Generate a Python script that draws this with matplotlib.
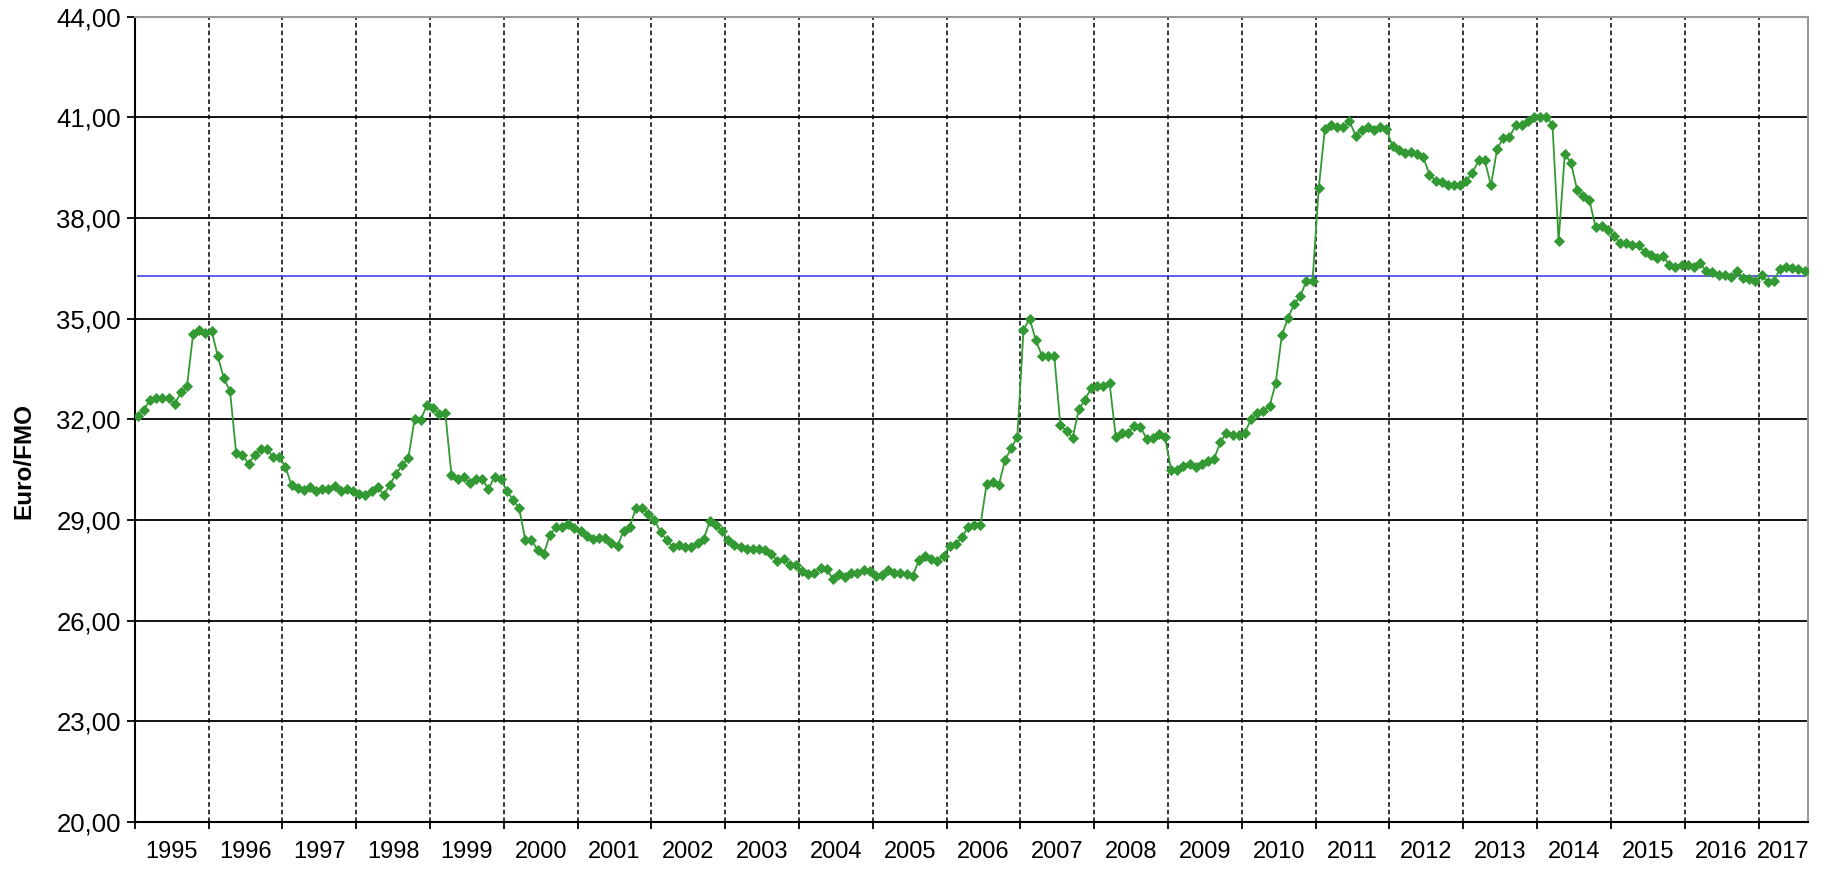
import matplotlib
matplotlib.use("Agg")
import matplotlib.pyplot as plt
from matplotlib.ticker import FixedLocator, FuncFormatter, NullFormatter

# monthly values Jan 1995 .. Aug 2017 (Euro/FMO)
monthly_values = [
    32.10, 32.28, 32.58, 32.63, 32.64, 32.64, 32.45, 32.80, 32.98, 34.55, 34.65, 34.58,  # 1995
    34.64, 33.88, 33.22, 32.83, 30.98, 30.93, 30.68, 30.93, 31.10, 31.10, 30.88, 30.88,  # 1996
    30.58, 30.03, 29.96, 29.90, 29.98, 29.85, 29.92, 29.92, 30.00, 29.86, 29.92, 29.85,  # 1997
    29.76, 29.73, 29.86, 29.98, 29.75, 30.05, 30.38, 30.63, 30.86, 32.00, 31.98, 32.42,  # 1998
    32.34, 32.16, 32.18, 30.33, 30.21, 30.29, 30.09, 30.23, 30.23, 29.91, 30.29, 30.23,  # 1999
    29.87, 29.60, 29.35, 28.40, 28.40, 28.11, 27.99, 28.55, 28.78, 28.78, 28.88, 28.76,  # 2000
    28.68, 28.52, 28.44, 28.46, 28.46, 28.31, 28.23, 28.68, 28.80, 29.36, 29.36, 29.18,  # 2001
    29.00, 28.64, 28.40, 28.19, 28.25, 28.19, 28.19, 28.30, 28.43, 28.96, 28.85, 28.66,  # 2002
    28.39, 28.26, 28.19, 28.13, 28.13, 28.13, 28.09, 27.99, 27.77, 27.84, 27.67, 27.67,  # 2003
    27.47, 27.40, 27.42, 27.57, 27.54, 27.24, 27.40, 27.30, 27.42, 27.42, 27.50, 27.47,  # 2004
    27.34, 27.37, 27.50, 27.42, 27.42, 27.40, 27.34, 27.80, 27.92, 27.84, 27.77, 27.94,  # 2005
    28.23, 28.29, 28.49, 28.79, 28.85, 28.85, 30.06, 30.13, 30.05, 30.79, 31.13, 31.48,  # 2006
    34.66, 35.00, 34.36, 33.89, 33.89, 33.89, 31.82, 31.65, 31.45, 32.30, 32.58, 32.93,  # 2007
    33.00, 33.00, 33.07, 31.48, 31.58, 31.60, 31.80, 31.78, 31.42, 31.45, 31.55, 31.48,  # 2008
    30.49, 30.49, 30.61, 30.66, 30.59, 30.66, 30.76, 30.83, 31.31, 31.60, 31.54, 31.54,  # 2009
    31.60, 32.00, 32.20, 32.26, 32.38, 33.08, 34.50, 35.02, 35.42, 35.66, 36.13, 36.13,  # 2010
    38.89, 40.65, 40.77, 40.70, 40.70, 40.88, 40.45, 40.62, 40.72, 40.62, 40.72, 40.65,  # 2011
    40.13, 40.03, 39.93, 39.95, 39.89, 39.81, 39.29, 39.11, 39.06, 38.99, 38.99, 38.99,  # 2012
    39.11, 39.35, 39.71, 39.71, 38.97, 40.05, 40.38, 40.40, 40.76, 40.76, 40.88, 41.00,  # 2013
    41.01, 41.00, 40.78, 37.31, 39.89, 39.65, 38.84, 38.64, 38.54, 37.72, 37.77, 37.64,  # 2014
    37.46, 37.25, 37.25, 37.18, 37.18, 36.98, 36.88, 36.81, 36.85, 36.61, 36.53, 36.61,  # 2015
    36.61, 36.53, 36.65, 36.41, 36.38, 36.31, 36.31, 36.23, 36.41, 36.21, 36.18, 36.11,  # 2016
    36.31, 36.08, 36.13, 36.48, 36.55, 36.51, 36.48, 36.43,                              # 2017
]
year_labels = [str(y) for y in range(1995, 2018)]
reference_value = 36.27
y_ticks = [20, 23, 26, 29, 32, 35, 38, 41, 44]

plt.rcParams['font.family'] = ['Liberation Sans', 'DejaVu Sans']

n = len(monthly_values)
x = list(range(1, n + 1))

fig = plt.figure(figsize=(18.48, 8.69), dpi=100)
ax = fig.add_axes([0.0729, 0.0541, 0.9053, 0.9269])

ax.plot(x, [reference_value] * n, color='#4444e6', lw=1.2, zorder=3)
ax.plot(x, monthly_values, color='#339933', lw=1.3, marker='D', ms=5.3,
        mec='#339933', mfc='#339933', mew=0.6, zorder=4)

ax.set_xlim(0.5, n + 0.5)
ax.set_ylim(20, 44)
ax.set_yticks(y_ticks)
ax.yaxis.set_major_formatter(FuncFormatter(lambda v, p: f"{v:.2f}".replace('.', ',')))

# year boundaries every 12 months, labels centred in each year group
bounds = [0.5 + 12 * k for k in range(len(year_labels))]
centers = [(b + min(b + 12, n + 0.5)) / 2 for b in bounds]
ax.xaxis.set_major_locator(FixedLocator(bounds))
ax.xaxis.set_major_formatter(NullFormatter())
ax.xaxis.set_minor_locator(FixedLocator(centers))
ax.set_xticklabels(year_labels, minor=True)

ax.tick_params(axis='x', which='major', length=5, width=1.3, color='black')
ax.tick_params(axis='x', which='minor', length=0, pad=13.5, labelsize=17)
ax.tick_params(axis='y', length=5.5, width=1.3, pad=4.5, labelsize=18.5)

ax.set_axisbelow(True)
ax.yaxis.grid(True, color='black', lw=1.3)
ax.xaxis.grid(True, which='major', color='black', lw=1.1, linestyle=(0, (3, 2)))

for side in ('left', 'bottom'):
    ax.spines[side].set_color('black')
    ax.spines[side].set_linewidth(1.5)
for side in ('top', 'right'):
    ax.spines[side].set_color('#9a9a9a')
    ax.spines[side].set_linewidth(1.5)

fig.text(24 / 1848, 1 - 461 / 869, 'Euro/FMO', rotation=90, fontweight='bold',
         fontsize=17.5, ha='center', va='center')

fig.savefig('out.png', dpi=100)
